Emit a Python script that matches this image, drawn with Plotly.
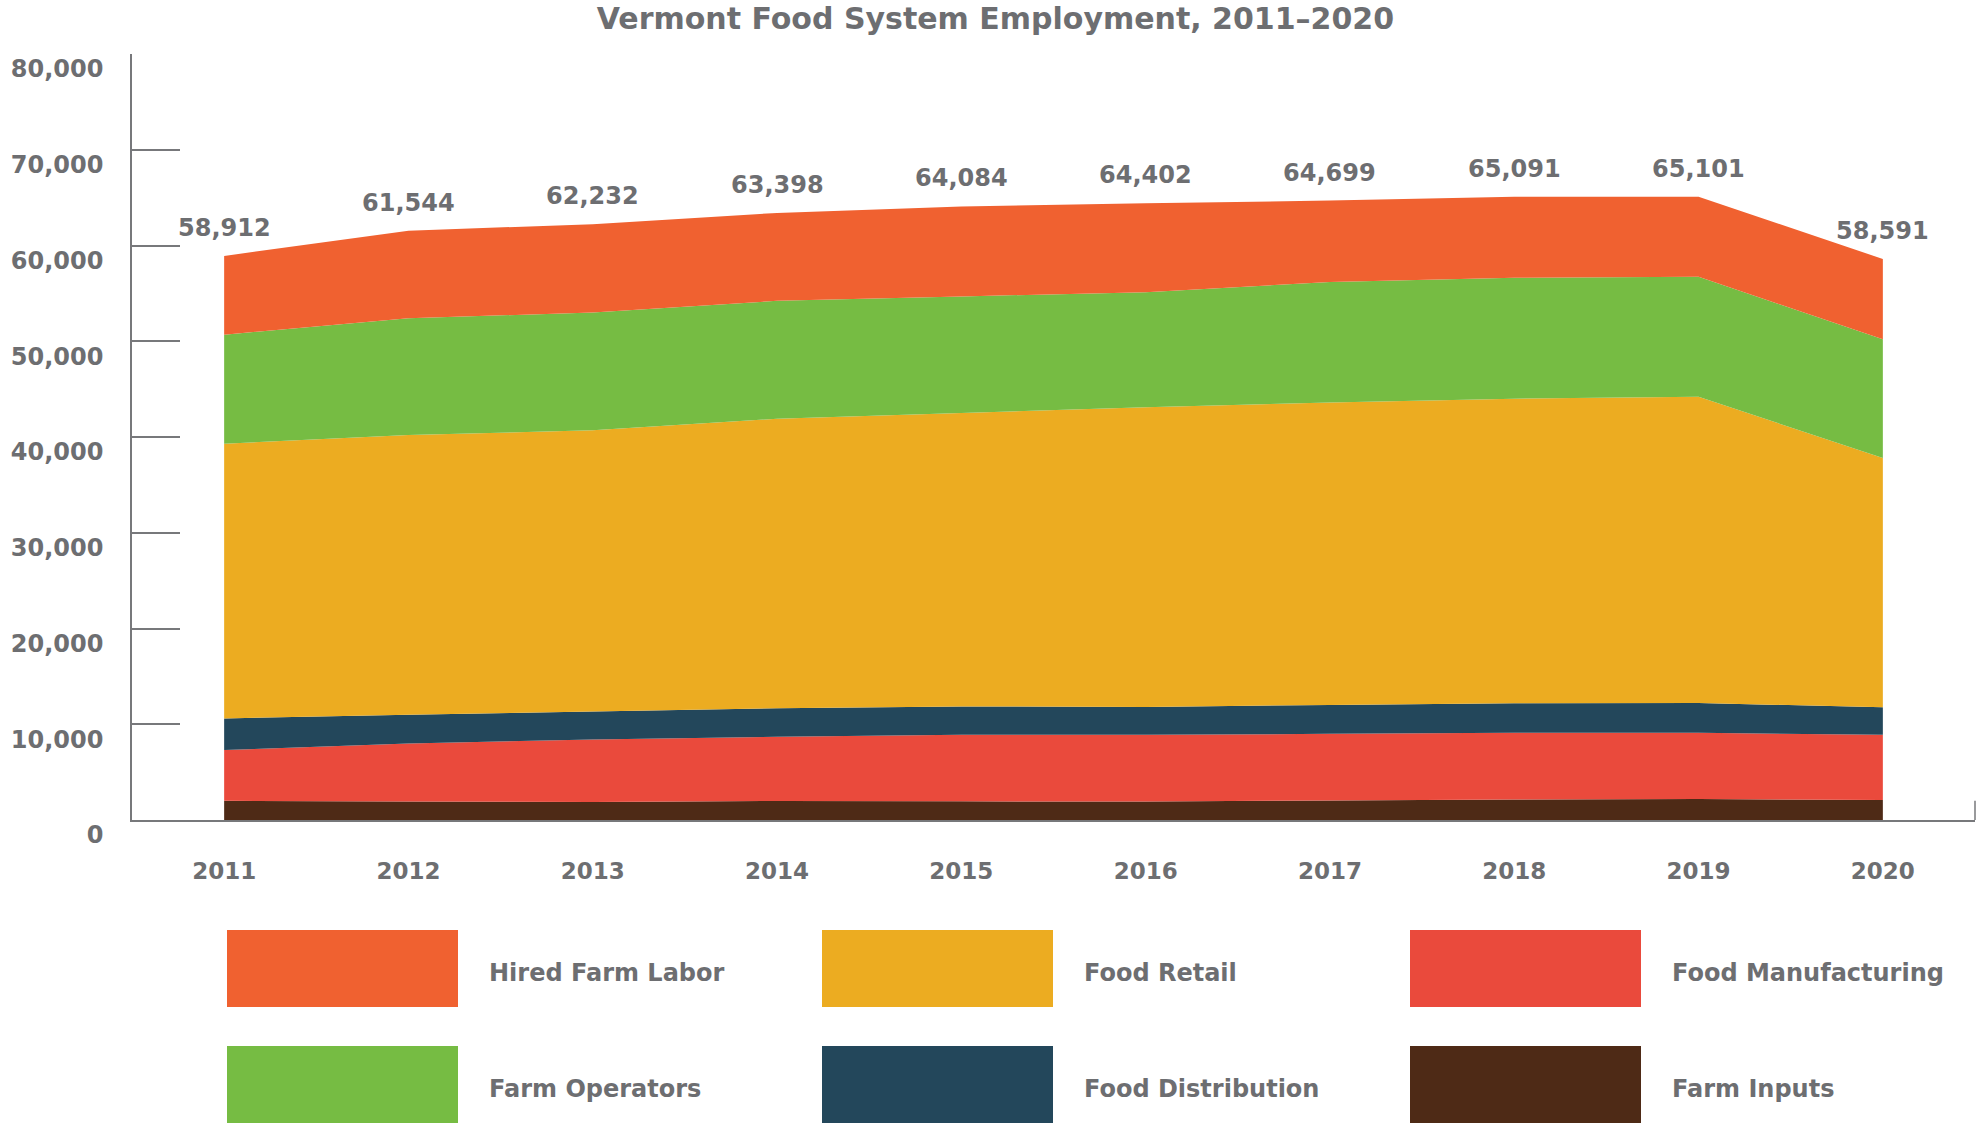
import plotly.graph_objects as go

# Employment by segment, Vermont food system
years = [2011, 2012, 2013, 2014, 2015, 2016, 2017, 2018, 2019, 2020]

farm_inputs = [2010, 1920, 1890, 1980, 1950, 1930, 2040, 2130, 2190, 2080]
food_manufacturing = [5290, 6080, 6510, 6720, 6950, 6970, 6960, 6970, 6910, 6820]
food_distribution = [3310, 2990, 2920, 2980, 2960, 2910, 3020, 3090, 3110, 2880]
food_retail = [28690, 29210, 29380, 30220, 30640, 31290, 31580, 31810, 31990, 26020]
farm_operators = [11390, 12210, 12290, 12320, 12180, 12030, 12580, 12620, 12530, 12410]
hired_farm_labor = [8222, 9134, 9242, 9178, 9404, 9272, 8519, 8471, 8371, 8381]

y_ticks = [0, 10000, 20000, 30000, 40000, 50000, 60000, 70000, 80000]

# stacking order: bottom layer first
series = [
    ("Farm Inputs", farm_inputs, "#4e2a16"),
    ("Food Manufacturing", food_manufacturing, "#ea4a3c"),
    ("Food Distribution", food_distribution, "#23475b"),
    ("Food Retail", food_retail, "#ecac21"),
    ("Farm Operators", farm_operators, "#76bc43"),
    ("Hired Farm Labor", hired_farm_labor, "#f06130"),
]

# key layout: (name, column, row)
legend_grid = [
    ("Hired Farm Labor", 0, 0),
    ("Food Retail", 1, 0),
    ("Food Manufacturing", 2, 0),
    ("Farm Operators", 0, 1),
    ("Food Distribution", 1, 1),
    ("Farm Inputs", 2, 1),
]

W, H = 1979, 1126
ML, MR, MT, MB = 132, 4, 54, 306
PW, PH = W - ML - MR, H - MT - MB

TEXT = "#6d6e71"
AXIS = "#77787b"
NUM_FONT = "DejaVu Sans"
LBL_FONT = "DejaVu Sans"


def px_to_paper_x(px):
    return (px - ML) / PW


def px_to_paper_y(py):
    return (H - MB - py) / PH


fig = go.Figure()
for name, vals, color in series:
    fig.add_trace(go.Scatter(
        x=years, y=vals, name=name, mode="none",
        stackgroup="one", fill="tonexty", fillcolor=color,
        line=dict(width=0), hoverinfo="x+y+name", showlegend=False,
    ))

# totals above the stack
totals = [sum(v[i] for _, v, _ in series) for i in range(len(years))]
for yr, tot in zip(years, totals):
    fig.add_annotation(
        x=yr, y=tot, text=f"<b>{tot:,}</b>", showarrow=False,
        yshift=28, yanchor="middle",
        font=dict(family=NUM_FONT, size=24, color=TEXT),
    )

# custom key: wide colour blocks with labels
colors = {n: c for n, _, c in series}
col_x = [227, 822, 1410]
sw_w = 231
row_y = [930, 1046]
sw_h = 77
for name, col, row in legend_grid:
    x0 = col_x[col]
    y0 = row_y[row]
    fig.add_shape(
        type="rect", xref="paper", yref="paper",
        x0=px_to_paper_x(x0), x1=px_to_paper_x(x0 + sw_w),
        y0=px_to_paper_y(y0 + sw_h), y1=px_to_paper_y(y0),
        fillcolor=colors[name], line=dict(width=0), layer="above",
    )
    fig.add_annotation(
        xref="paper", yref="paper",
        x=px_to_paper_x(x0 + sw_w + 29), y=px_to_paper_y(y0 + sw_h / 2 + 4),
        xanchor="left", yanchor="middle", showarrow=False,
        text=f"<b>{name}</b>",
        font=dict(family=LBL_FONT, size=24, color=TEXT),
    )

# small closing tick at the right end of the baseline
fig.add_shape(
    type="line", xref="x domain", yref="y domain",
    x0=1, x1=1, y0=0, y1=0.025,
    line=dict(color=AXIS, width=1.5),
)

fig.update_layout(
    width=W, height=H,
    margin=dict(l=ML, r=MR, t=MT, b=MB),
    paper_bgcolor="white", plot_bgcolor="white",
    title=dict(
        text="<b>Vermont Food System Employment, 2011–2020</b>",
        xref="container", yref="container", x=0.503, y=1 - 8 / H,
        xanchor="center", yanchor="top",
        font=dict(family=LBL_FONT, size=30, color=TEXT),
    ),
    showlegend=False,
)

fig.update_xaxes(
    range=[2010.5, 2020.5], tickvals=years,
    ticktext=[f"<b>{y}</b>" for y in years],
    showgrid=False, zeroline=False, showline=True, linecolor=AXIS, linewidth=1.5,
    ticks="", ticklabelstandoff=30,
    tickfont=dict(family=NUM_FONT, size=23, color=TEXT),
)

fig.update_yaxes(
    range=[0, 80000], tickvals=y_ticks,
    ticktext=[f"<b>{v:,}</b>" for v in y_ticks],
    showgrid=False, zeroline=False, showline=True, linecolor=AXIS, linewidth=1.5,
    ticks="inside", ticklen=48, tickcolor=AXIS, tickwidth=1.5,
    ticklabelshift=15, ticklabelstandoff=22,
    tickfont=dict(family=NUM_FONT, size=24, color=TEXT),
)

fig.write_html("out.html")
